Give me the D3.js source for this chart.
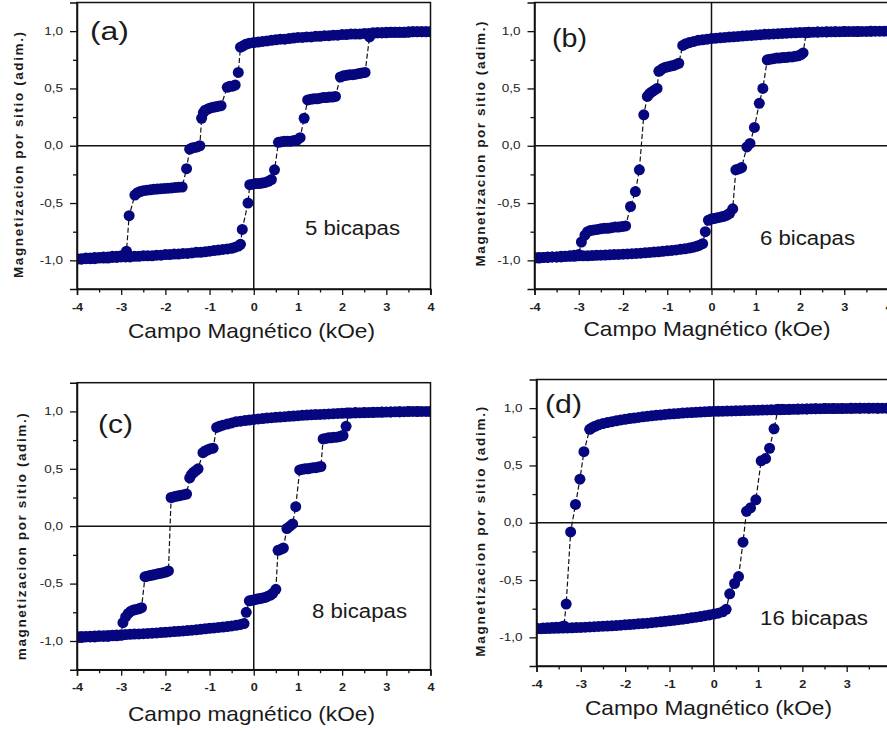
<!DOCTYPE html>
<html><head><meta charset="utf-8">
<script src="https://cdn.jsdelivr.net/npm/d3@7"></script>
<style>body{margin:0;background:#fff}svg{display:block}text{font-family:"Liberation Sans",Arial,sans-serif}</style>
</head><body><svg id="c" width="887" height="731"></svg>
<script>
const xTicks=[-4,-3,-2,-1,0,1,2,3,4];
const xMinor=[-3.5,-2.5,-1.5,-0.5,0.5,1.5,2.5,3.5];
const yTicks=[-1,-0.5,0,0.5,1];
const yMinor=[-0.75,-0.25,0.25,0.75];
const panelLetters=["(a)","(b)","(c)","(d)"];
const layerLabels=["5 bicapas","6 bicapas","8 bicapas","16 bicapas"];
const xLabels=["Campo Magnético (kOe)","Campo Magnético (kOe)","Campo magnético (kOe)","Campo Magnético (kOe)"];
const yLabels=["Magnetizacion por sitio (adim.)","Magnetizacion por sitio (adim.)","magnetizacion por sitio (adim.)","Magnetizacion por sitio (adim.)"];

// (a) 5 bicapas
const descA=[[4.0,0.995],[3.9,0.995],[3.8,0.995],[3.7,0.995],[3.6,0.995],[3.5,0.99],[3.4,0.99],[3.3,0.99],[3.2,0.99],[3.1,0.99],[3.0,0.985],[2.9,0.985],[2.8,0.985],[2.7,0.98],[2.6,0.98],[2.5,0.98],[2.4,0.975],[2.3,0.975],[2.2,0.975],[2.1,0.97],[2.0,0.97],[1.9,0.965],[1.8,0.965],[1.7,0.96],[1.6,0.96],[1.5,0.955],[1.4,0.955],[1.3,0.95],[1.2,0.95],[1.1,0.945],[1.0,0.945],[0.9,0.94],[0.8,0.935],[0.7,0.93],[0.6,0.93],[0.5,0.925],[0.4,0.92],[0.3,0.915],[0.2,0.91],[0.1,0.905],[0.0,0.9],[-0.1,0.895],[-0.18,0.885],[-0.25,0.87],[-0.3,0.86],
[-0.35,0.64],
[-0.42,0.53],[-0.48,0.52],[-0.54,0.52],[-0.6,0.51],
[-0.74,0.35],[-0.8,0.345],[-0.86,0.34],[-0.92,0.335],[-0.98,0.33],[-1.04,0.32],[-1.1,0.31],[-1.14,0.29],
[-1.18,0.24],
[-1.22,0.0],[-1.28,-0.01],[-1.34,-0.015],[-1.4,-0.02],[-1.45,-0.03],
[-1.52,-0.2],
[-1.62,-0.36],[-1.7,-0.362],[-1.78,-0.365],[-1.86,-0.368],[-1.94,-0.37],[-2.02,-0.372],[-2.1,-0.375],[-2.18,-0.378],[-2.26,-0.38],[-2.34,-0.385],[-2.42,-0.388],[-2.5,-0.392],[-2.57,-0.4],[-2.63,-0.41],[-2.69,-0.43],
[-2.82,-0.61],
[-2.88,-0.92],
[-3.0,-0.96],[-3.1,-0.965],[-3.2,-0.965],[-3.3,-0.97],[-3.4,-0.97],[-3.5,-0.975],[-3.6,-0.975],[-3.7,-0.98],[-3.8,-0.98],[-3.9,-0.985],[-4.0,-0.985]];
const ascA=[[-4.0,-0.99],[-3.9,-0.99],[-3.8,-0.985],[-3.7,-0.985],[-3.6,-0.985],[-3.5,-0.98],[-3.4,-0.98],[-3.3,-0.98],[-3.2,-0.975],[-3.1,-0.975],[-3.0,-0.97],[-2.9,-0.97],[-2.8,-0.97],[-2.7,-0.965],[-2.6,-0.965],[-2.5,-0.96],[-2.4,-0.96],[-2.3,-0.96],[-2.2,-0.955],[-2.1,-0.955],[-2.0,-0.95],[-1.9,-0.95],[-1.8,-0.945],[-1.7,-0.945],[-1.6,-0.94],[-1.5,-0.94],[-1.4,-0.935],[-1.3,-0.93],[-1.2,-0.93],[-1.1,-0.925],[-1.0,-0.92],[-0.9,-0.915],[-0.8,-0.91],[-0.7,-0.905],[-0.6,-0.9],[-0.5,-0.895],[-0.42,-0.885],[-0.35,-0.875],[-0.3,-0.86],
[-0.26,-0.73],
[-0.13,-0.5],
[-0.09,-0.34],[-0.02,-0.335],[0.05,-0.33],[0.12,-0.33],[0.19,-0.325],[0.26,-0.32],[0.33,-0.31],[0.4,-0.295],
[0.47,-0.21],
[0.56,0.03],[0.63,0.035],[0.7,0.04],[0.77,0.04],[0.84,0.04],[0.91,0.045],[0.98,0.05],[1.05,0.07],
[1.14,0.24],
[1.22,0.4],[1.29,0.405],[1.36,0.41],[1.43,0.41],[1.5,0.415],[1.57,0.42],[1.64,0.42],[1.71,0.425],[1.78,0.425],[1.85,0.43],
[1.96,0.6],[2.03,0.61],[2.1,0.615],[2.17,0.62],[2.24,0.62],[2.31,0.625],[2.38,0.63],[2.45,0.635],[2.52,0.64],
[2.62,0.95],
[2.7,0.985],[2.8,0.985],[2.9,0.985],[3.0,0.99],[3.1,0.99],[3.2,0.99],[3.3,0.99],[3.4,0.99],[3.5,0.995],[3.6,0.995],[3.7,0.995],[3.8,0.995],[3.9,0.995],[4.0,0.995]];

// (b) 6 bicapas
const descB=[[4.0,1.0],[3.9,1.0],[3.8,1.0],[3.7,1.0],[3.6,1.0],[3.5,0.998],[3.4,0.998],[3.3,0.997],[3.2,0.997],[3.1,0.996],[3.0,0.996],[2.9,0.995],[2.8,0.995],[2.7,0.994],[2.6,0.993],[2.5,0.993],[2.4,0.992],[2.3,0.991],[2.2,0.99],[2.1,0.989],[2.0,0.988],[1.9,0.986],[1.8,0.984],[1.7,0.982],[1.6,0.98],[1.5,0.978],[1.4,0.976],[1.3,0.974],[1.2,0.972],[1.1,0.969],[1.0,0.966],[0.9,0.963],[0.8,0.96],[0.7,0.957],[0.6,0.954],[0.5,0.951],[0.4,0.948],[0.3,0.945],[0.2,0.942],[0.1,0.939],[0.0,0.935],[-0.1,0.93],[-0.2,0.925],[-0.3,0.92],[-0.4,0.91],[-0.5,0.9],[-0.58,0.89],[-0.65,0.875],
[-0.74,0.72],[-0.8,0.71],[-0.86,0.7],[-0.92,0.695],[-0.98,0.69],[-1.04,0.685],[-1.1,0.675],[-1.15,0.66],[-1.19,0.65],
[-1.23,0.5],[-1.29,0.485],[-1.35,0.47],[-1.4,0.455],[-1.45,0.43],
[-1.53,0.27],
[-1.63,-0.21],
[-1.72,-0.4],
[-1.83,-0.53],
[-1.94,-0.7],[-2.02,-0.705],[-2.1,-0.71],[-2.18,-0.71],[-2.26,-0.715],[-2.34,-0.72],[-2.42,-0.72],[-2.5,-0.725],[-2.58,-0.73],[-2.66,-0.735],[-2.74,-0.74],[-2.8,-0.75],[-2.86,-0.78],[-2.94,-0.84],
[-3.0,-0.95],[-3.1,-0.955],[-3.2,-0.96],[-3.3,-0.965],[-3.4,-0.965],[-3.5,-0.97],[-3.6,-0.97],[-3.7,-0.975],[-3.8,-0.975],[-3.9,-0.98],[-4.0,-0.98]];
const ascB=[[-4.0,-0.975],[-3.9,-0.975],[-3.8,-0.975],[-3.7,-0.97],[-3.6,-0.97],[-3.5,-0.97],[-3.4,-0.97],[-3.3,-0.965],[-3.2,-0.965],[-3.1,-0.965],[-3.0,-0.96],[-2.9,-0.96],[-2.8,-0.96],[-2.7,-0.958],[-2.6,-0.956],[-2.5,-0.955],[-2.4,-0.954],[-2.3,-0.952],[-2.2,-0.95],[-2.1,-0.948],[-2.0,-0.946],[-1.9,-0.944],[-1.8,-0.942],[-1.7,-0.94],[-1.6,-0.937],[-1.5,-0.934],[-1.4,-0.931],[-1.3,-0.928],[-1.2,-0.925],[-1.1,-0.921],[-1.0,-0.917],[-0.9,-0.913],[-0.8,-0.909],[-0.7,-0.904],[-0.6,-0.899],[-0.5,-0.893],[-0.42,-0.886],[-0.34,-0.878],[-0.27,-0.868],[-0.2,-0.855],
[-0.14,-0.75],
[-0.07,-0.65],[-0.01,-0.64],[0.05,-0.635],[0.11,-0.63],[0.17,-0.625],[0.23,-0.62],[0.29,-0.615],[0.35,-0.605],[0.41,-0.59],
[0.48,-0.55],
[0.55,-0.21],[0.63,-0.2],[0.68,-0.19],
[0.8,-0.01],[0.87,0.02],
[0.97,0.16],
[1.08,0.37],
[1.16,0.5],
[1.26,0.75],[1.33,0.755],[1.4,0.76],[1.47,0.765],[1.54,0.765],[1.61,0.77],[1.68,0.77],[1.75,0.775],[1.82,0.775],[1.89,0.78],[1.96,0.785],[2.02,0.795],[2.07,0.81],
[2.14,0.985],[2.2,0.99],[2.4,0.992],[2.6,0.994],[2.8,0.995],[3.0,0.996],[3.3,0.998],[3.6,1.0],[4.0,1.0]];

// (c) 8 bicapas
const descC=[[4.0,1.0],[3.9,1.0],[3.8,1.0],[3.7,1.0],[3.6,1.0],[3.5,1.0],[3.4,0.998],[3.3,0.997],[3.2,0.996],[3.1,0.995],[3.0,0.994],[2.9,0.993],[2.8,0.992],[2.7,0.991],[2.6,0.99],[2.5,0.989],[2.4,0.988],[2.3,0.987],[2.2,0.986],[2.1,0.985],[2.0,0.984],[1.9,0.982],[1.8,0.98],[1.7,0.978],[1.6,0.976],[1.5,0.974],[1.4,0.972],[1.3,0.97],[1.2,0.968],[1.1,0.966],[1.0,0.963],[0.9,0.96],[0.8,0.957],[0.7,0.954],[0.6,0.951],[0.5,0.948],[0.4,0.945],[0.3,0.942],[0.2,0.938],[0.1,0.934],[0.0,0.93],[-0.1,0.925],[-0.2,0.92],[-0.3,0.915],[-0.4,0.91],[-0.5,0.9],[-0.6,0.89],[-0.7,0.88],[-0.78,0.87],[-0.84,0.86],
[-0.92,0.68],[-0.98,0.675],[-1.04,0.665],[-1.1,0.655],[-1.15,0.64],
[-1.26,0.5],[-1.31,0.485],[-1.36,0.47],[-1.41,0.45],[-1.45,0.42],
[-1.52,0.28],[-1.58,0.275],[-1.64,0.27],[-1.7,0.265],[-1.76,0.26],[-1.82,0.255],[-1.87,0.25],
[-1.93,-0.39],[-1.99,-0.4],[-2.05,-0.405],[-2.11,-0.41],[-2.17,-0.415],[-2.23,-0.42],[-2.29,-0.425],[-2.35,-0.43],[-2.41,-0.435],[-2.46,-0.44],
[-2.54,-0.71],[-2.6,-0.72],[-2.66,-0.725],[-2.72,-0.73],[-2.78,-0.74],[-2.84,-0.76],[-2.9,-0.79],[-2.96,-0.84],
[-3.0,-0.95],[-3.1,-0.955],[-3.2,-0.955],[-3.3,-0.96],[-3.4,-0.96],[-3.5,-0.96],[-3.6,-0.965],[-3.7,-0.965],[-3.8,-0.965],[-3.9,-0.97],[-4.0,-0.97]];
const ascC=[[-4.0,-0.96],[-3.9,-0.96],[-3.8,-0.96],[-3.7,-0.958],[-3.6,-0.956],[-3.5,-0.955],[-3.4,-0.954],[-3.3,-0.952],[-3.2,-0.95],[-3.1,-0.948],[-3.0,-0.946],[-2.9,-0.944],[-2.8,-0.942],[-2.7,-0.94],[-2.6,-0.938],[-2.5,-0.936],[-2.4,-0.934],[-2.3,-0.932],[-2.2,-0.93],[-2.1,-0.927],[-2.0,-0.924],[-1.9,-0.921],[-1.8,-0.918],[-1.7,-0.915],[-1.6,-0.912],[-1.5,-0.909],[-1.4,-0.906],[-1.3,-0.902],[-1.2,-0.898],[-1.1,-0.894],[-1.0,-0.89],[-0.9,-0.886],[-0.8,-0.882],[-0.7,-0.878],[-0.6,-0.874],[-0.5,-0.869],[-0.4,-0.863],[-0.3,-0.856],[-0.22,-0.848],
[-0.17,-0.75],
[-0.1,-0.65],[-0.04,-0.645],[0.02,-0.64],[0.08,-0.635],[0.14,-0.63],[0.2,-0.625],[0.26,-0.62],[0.32,-0.61],[0.38,-0.6],[0.43,-0.585],
[0.5,-0.55],
[0.55,-0.21],[0.62,-0.2],[0.67,-0.19],
[0.75,-0.02],[0.82,0.0],[0.88,0.02],
[0.95,0.17],
[1.04,0.49],[1.1,0.495],[1.16,0.5],[1.22,0.5],[1.28,0.505],[1.34,0.51],[1.4,0.51],[1.46,0.515],[1.52,0.52],
[1.57,0.76],[1.63,0.765],[1.69,0.77],[1.75,0.77],[1.81,0.775],[1.87,0.775],[1.93,0.78],[1.98,0.785],[2.02,0.79],
[2.09,0.87],
[2.15,0.985],[2.3,0.99],[2.5,0.99],[2.7,0.992],[2.9,0.994],[3.1,0.995],[3.3,0.997],[3.5,1.0],[3.7,1.0],[4.0,1.0]];

// (d) 16 bicapas
const descD=[[4.0,1.0],[3.9,1.0],[3.8,1.0],[3.7,1.0],[3.6,1.0],[3.5,1.0],[3.4,1.0],[3.3,1.0],[3.2,0.999],[3.1,0.999],[3.0,0.998],[2.9,0.998],[2.8,0.997],[2.7,0.997],[2.6,0.996],[2.5,0.996],[2.4,0.995],[2.3,0.995],[2.2,0.994],[2.1,0.993],[2.0,0.992],[1.9,0.991],[1.8,0.99],[1.7,0.989],[1.6,0.988],[1.5,0.987],[1.4,0.986],[1.3,0.985],[1.2,0.984],[1.1,0.983],[1.0,0.982],[0.9,0.981],[0.8,0.98],[0.7,0.979],[0.6,0.978],[0.5,0.977],[0.4,0.976],[0.3,0.975],[0.2,0.974],[0.1,0.973],[0.0,0.972],[-0.1,0.97],[-0.2,0.968],[-0.3,0.966],[-0.4,0.964],[-0.5,0.962],[-0.6,0.96],[-0.7,0.957],[-0.8,0.954],[-0.9,0.951],[-1.0,0.948],[-1.1,0.945],[-1.2,0.941],[-1.3,0.937],[-1.4,0.933],[-1.5,0.929],[-1.6,0.924],[-1.7,0.919],[-1.8,0.914],[-1.9,0.909],[-2.0,0.903],[-2.1,0.897],[-2.2,0.89],[-2.3,0.882],[-2.4,0.874],[-2.5,0.865],[-2.6,0.855],[-2.68,0.842],[-2.75,0.828],[-2.8,0.815],
[-2.93,0.62],
[-3.02,0.38],
[-3.12,0.16],
[-3.23,-0.08],
[-3.33,-0.71],
[-3.38,-0.9],[-3.45,-0.91],[-3.55,-0.912],[-3.65,-0.914],[-3.75,-0.916],[-3.85,-0.918],[-4.0,-0.92]];
const ascD=[[-4.0,-0.925],[-3.9,-0.924],[-3.8,-0.923],[-3.7,-0.922],[-3.6,-0.921],[-3.5,-0.92],[-3.4,-0.919],[-3.3,-0.918],[-3.2,-0.917],[-3.1,-0.915],[-3.0,-0.913],[-2.9,-0.911],[-2.8,-0.909],[-2.7,-0.907],[-2.6,-0.905],[-2.5,-0.903],[-2.4,-0.901],[-2.3,-0.899],[-2.2,-0.897],[-2.1,-0.894],[-2.0,-0.891],[-1.9,-0.888],[-1.8,-0.885],[-1.7,-0.882],[-1.6,-0.879],[-1.5,-0.876],[-1.4,-0.872],[-1.3,-0.868],[-1.2,-0.864],[-1.1,-0.86],[-1.0,-0.856],[-0.9,-0.851],[-0.8,-0.846],[-0.7,-0.841],[-0.6,-0.836],[-0.5,-0.83],[-0.4,-0.824],[-0.3,-0.818],[-0.2,-0.811],[-0.1,-0.804],[0.0,-0.797],[0.1,-0.789],[0.2,-0.777],[0.28,-0.755],
[0.36,-0.62],
[0.47,-0.53],
[0.56,-0.47],
[0.66,-0.17],
[0.74,0.1],
[0.83,0.13],
[0.95,0.2],
[1.07,0.54],
[1.17,0.56],
[1.26,0.65],
[1.36,0.82],
[1.45,0.99],[1.55,0.99],[1.7,0.99],[1.9,0.992],[2.1,0.993],[2.3,0.995],[2.5,0.996],[2.7,0.997],[2.9,0.998],[3.1,0.999],[3.3,1.0],[3.5,1.0],[3.7,1.0],[4.0,1.0]];

const panelData=[[descA,ascA],[descB,ascB],[descC,ascC],[descD,ascD]];

// layout (pixel geometry only)
const layout=[
 {l:77,t:2.5,w:353.5,h:286.5, let:{x:90,y:40,s:26,len:39}, lay:{x:305,y:235,len:95}, xl:{x:251.5,y:338}, yl:{x:22.7,y:155,len:246}},
 {l:534.5,t:2.5,w:354,h:286.5, let:{x:552,y:46.5,s:25,len:35}, lay:{x:760,y:245,len:95}, xl:{x:707,y:336}, yl:{x:484.5,y:144,len:245}},
 {l:77,t:382.7,w:353.5,h:287, let:{x:98,y:433,s:25,len:35}, lay:{x:312,y:618,len:95}, xl:{x:251.5,y:721}, yl:{x:25.5,y:536.7,len:247}},
 {l:536.5,t:379.5,w:354.5,h:286.5, let:{x:545,y:413,s:25,len:37}, lay:{x:760,y:625,len:108}, xl:{x:708.5,y:715}, yl:{x:484.5,y:531.7,len:250}}
];

const svg=d3.select('#c');
const defs=svg.append('defs');
const ink='#1a1a1a';

function stretch(sel,k){
  sel.each(function(){const w=this.getComputedTextLength();d3.select(this).attr('textLength',w*k).attr('lengthAdjust','spacingAndGlyphs');});
}

layout.forEach((p,i)=>{
  const g=svg.append('g');
  const x=d3.scaleLinear().domain([-4,4]).range([p.l,p.l+p.w]);
  const y=d3.scaleLinear().domain([-1.25,1.25]).range([p.t+p.h,p.t]);
  defs.append('clipPath').attr('id','clip'+i).append('rect')
    .attr('x',p.l).attr('y',p.t).attr('width',p.w).attr('height',p.h);
  const plot=g.append('g').attr('clip-path',`url(#clip${i})`);
  plot.append('line').attr('x1',x(-4)).attr('x2',x(4)).attr('y1',y(0)).attr('y2',y(0)).attr('stroke','#111').attr('stroke-width',1.5);
  plot.append('line').attr('x1',x(0)).attr('x2',x(0)).attr('y1',y(-1.25)).attr('y2',y(1.25)).attr('stroke','#111').attr('stroke-width',1.5);
  const [desc,asc]=panelData[i];
  const all=desc.concat(asc);
  const line=d3.line().x(d=>x(d[0])).y(d=>y(d[1]));
  plot.append('path').datum(all).attr('d',line).attr('fill','none').attr('stroke','#111').attr('stroke-width',1.2).attr('stroke-dasharray','5,2.5');
  plot.selectAll('circle').data(all).join('circle')
    .attr('cx',d=>x(d[0])).attr('cy',d=>y(d[1])).attr('r',5.5).attr('fill','#06067e');
  g.append('rect').attr('x',p.l).attr('y',p.t).attr('width',p.w).attr('height',p.h)
    .attr('fill','none').attr('stroke','#111').attr('stroke-width',1.5);
  const xa=g.append('g').attr('transform',`translate(0,${p.t+p.h})`)
    .call(d3.axisBottom(x).tickValues(xTicks).tickSize(6).tickPadding(8).tickFormat(d=>String(d)));
  g.append('g').attr('transform',`translate(0,${p.t+p.h})`)
    .call(d3.axisBottom(x).tickValues(xMinor).tickSize(3.5).tickFormat(''))
    .call(s=>s.select('.domain').remove());
  const ya=g.append('g').attr('transform',`translate(${p.l},0)`)
    .call(d3.axisLeft(y).tickValues(yTicks).tickSize(7).tickPadding(7).tickFormat(d=>d.toFixed(1).replace('.',',')));
  g.append('g').attr('transform',`translate(${p.l},0)`)
    .call(d3.axisLeft(y).tickValues(yMinor).tickSize(4).tickFormat(''))
    .call(s=>s.select('.domain').remove());
  g.selectAll('.domain').attr('stroke','#111').attr('stroke-width',1.5);
  g.selectAll('.tick line').attr('stroke','#111').attr('stroke-width',1.3);
  xa.selectAll('text').attr('font-size',11).attr('font-weight','bold').attr('fill','#222').attr('font-family','"Liberation Sans",Arial,sans-serif');
  ya.selectAll('text').attr('font-size',10).attr('fill','#222').attr('font-family','"Liberation Sans",Arial,sans-serif');
  stretch(xa.selectAll('text'),1.15);
  stretch(ya.selectAll('text'),1.35);
  g.append('text').attr('x',p.let.x).attr('y',p.let.y).attr('font-size',p.let.s).attr('fill',ink)
    .attr('textLength',p.let.len).attr('lengthAdjust','spacingAndGlyphs').text(panelLetters[i]);
  g.append('text').attr('x',p.lay.x).attr('y',p.lay.y).attr('font-size',20).attr('fill',ink)
    .attr('textLength',p.lay.len).attr('lengthAdjust','spacingAndGlyphs').text(layerLabels[i]);
  g.append('text').attr('x',p.xl.x).attr('y',p.xl.y).attr('font-size',21).attr('fill',ink)
    .attr('text-anchor','middle').attr('textLength',247).attr('lengthAdjust','spacingAndGlyphs').text(xLabels[i]);
  g.append('text').attr('transform',`translate(${p.yl.x},${p.yl.y}) rotate(-90)`).attr('font-size',13.5).attr('font-weight','bold').attr('fill',ink)
    .attr('text-anchor','middle').attr('textLength',p.yl.len).attr('lengthAdjust','spacing').text(yLabels[i]);
});
</script></body></html>
